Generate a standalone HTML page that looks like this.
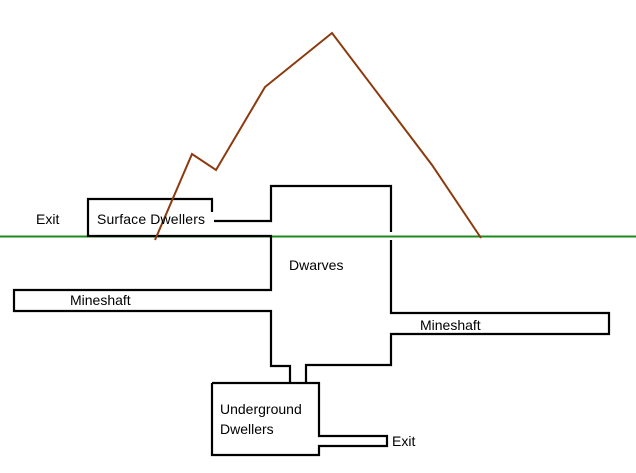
<!DOCTYPE html>
<html><head><style>body{margin:0;background:#fff}</style></head><body>
<svg width="636" height="473" xmlns="http://www.w3.org/2000/svg" style="display:block">
<rect width="636" height="473" fill="#fff"/>
<line x1="0" y1="236.5" x2="636" y2="236.5" stroke="#1e8a1e" stroke-width="2"/>
<g fill="none" stroke="#000" stroke-width="2.2">
<polyline points="212,236 88,236 88,199 212,199 212,212"/>
<polyline points="214,221 271,221 271,186 391,186 391,232"/>
<polyline points="212,236 271,236 271,290 14,290 14,311 271,311 271,366 290,366 290,384"/>
<polyline points="391,240 391,313 609,313 609,334 391,334 391,365 306,365 306,384"/>
<polyline points="212,383 212,455 319,455 319,446 387,446 387,436 319,436 319,383 290,383"/>
<line x1="212" y1="383" x2="290" y2="383"/>
</g>
<polyline points="155,240 192,154 216,170 265,87 332,33 432,165 481,238" fill="none" stroke="#8b3a0e" stroke-width="2"/>
<g font-family="Liberation Sans, sans-serif" font-size="14" fill="#000">
<text x="36" y="224">Exit</text>
<text x="97" y="224" textLength="108">Surface Dwellers</text>
<text x="289" y="270">Dwarves</text>
<text x="70" y="305">Mineshaft</text>
<text x="420" y="330">Mineshaft</text>
<text x="220" y="414">Underground</text>
<text x="220" y="434">Dwellers</text>
<text x="392" y="446">Exit</text>
</g>
</svg>
</body></html>
